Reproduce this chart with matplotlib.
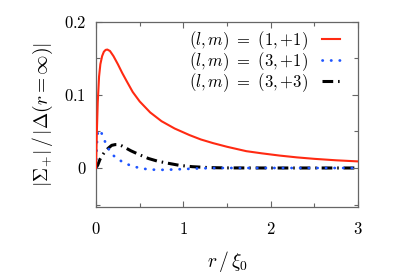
import matplotlib
matplotlib.use("Agg")
import matplotlib.pyplot as plt

# ── data ──────────────────────────────────────────────────────────────────
r_11 = [0, 0.01, 0.02, 0.035, 0.05, 0.07, 0.09, 0.11, 0.13, 0.16, 0.2, 0.25,
        0.3, 0.35, 0.42, 0.5, 0.62, 0.75, 0.9, 1.07, 1.2, 1.34, 1.5, 1.72,
        1.9, 2.1, 2.3, 2.5, 2.75, 3.0]
s_11 = [0, 0.05, 0.09, 0.125, 0.142, 0.153, 0.159, 0.1615, 0.162, 0.160,
        0.153, 0.142, 0.130, 0.119, 0.104, 0.091, 0.076, 0.064, 0.054, 0.045,
        0.039, 0.034, 0.029, 0.023, 0.020, 0.017, 0.0145, 0.0125, 0.0105, 0.009]

r_31 = [0, 0.005, 0.015, 0.03, 0.05, 0.07, 0.1, 0.13, 0.16, 0.2, 0.25, 0.31,
        0.4, 0.5, 0.6, 0.7, 0.8, 0.9, 1.0, 1.1, 1.2, 1.4, 1.7, 2.0, 2.5, 3.0]
s_31 = [0, 0.02, 0.045, 0.052, 0.051, 0.046, 0.037, 0.029, 0.023, 0.017,
        0.012, 0.008, 0.003, 0.0, -0.002, -0.0025, -0.0025, -0.002, -0.0015,
        -0.001, -0.0005, 0, 0, 0, 0, 0]

r_33 = [0, 0.02, 0.046, 0.07, 0.1, 0.14, 0.18, 0.22, 0.26, 0.3, 0.4, 0.5,
        0.6, 0.7, 0.8, 0.96, 1.1, 1.3, 1.5, 2.0, 2.5, 3.0]
s_33 = [0, 0.004, 0.012, 0.017, 0.022, 0.027, 0.031, 0.032, 0.032, 0.030,
        0.0235, 0.018, 0.013, 0.0095, 0.007, 0.0035, 0.0018, 0.0005, 0.0001,
        0, 0, 0]

labels = [r"$(l, m)\ =\ (1, {+}1)$", r"$(l, m)\ =\ (3, {+}1)$",
          r"$(l, m)\ =\ (3, {+}3)$"]
xticks = [0, 1, 2, 3]
xticklabels = ["$0$", "$1$", "$2$", "$3$"]
yticks = [0, 0.1, 0.2]
yticklabels = ["$0$", "$0.1$", "$0.2$"]

plt.rcParams["mathtext.fontset"] = "cm"
plt.rcParams["font.family"] = "serif"
plt.rcParams["font.serif"] = ["DejaVu Serif"]

fig = plt.figure(figsize=(3.99, 2.79), dpi=100)
ax = fig.add_axes([0.2406, 0.259, 0.657, 0.663])

ax.plot(r_11, s_11, color="#ff2a12", lw=1.5, label=labels[0], zorder=3)
ax.plot(r_31, s_31, color="#1f55ff", lw=2.0, linestyle=(0, (0.1, 3.0)),
        dash_capstyle="round", label=labels[1], zorder=2)
ax.plot(r_33, s_33, color="black", lw=2.2, linestyle=(0, (3.5, 1.6, 0.5, 1.6)),
        label=labels[2], zorder=1)

ax.set_xlim(0, 3)
ax.set_ylim(-0.053, 0.2)
ax.set_xticks(xticks)
ax.set_xticklabels(xticklabels)
ax.set_yticks(yticks)
ax.set_yticklabels(yticklabels)
ax.set_xticks([0.5, 1.5, 2.5], minor=True)
ax.set_yticks([-0.05, 0.05, 0.15], minor=True)
ax.tick_params(which="both", direction="in", top=True, right=True,
               color="#666666", labelsize=12)
ax.tick_params(axis="x", which="both", pad=10)
ax.tick_params(axis="y", which="both", pad=7)
ax.tick_params(which="major", length=4, width=0.8)
ax.tick_params(which="minor", length=3, width=0.8)
for s in ax.spines.values():
    s.set_color("#666666")
    s.set_linewidth(0.9)

ax.set_xlabel(r"$r\,/\,\xi_0$", fontsize=14, labelpad=8)
ax.set_ylabel(r"$|\Sigma_{+}|\,/\,|\Delta(r=\infty)|$", fontsize=14, labelpad=6)

ax.legend(loc="upper right", frameon=False, markerfirst=False, fontsize=12,
          handlelength=1.1, handletextpad=0.8, labelspacing=-0.1,
          borderaxespad=0.2, bbox_to_anchor=(0.97, 1.016))

fig.savefig("out.png", dpi=100)
